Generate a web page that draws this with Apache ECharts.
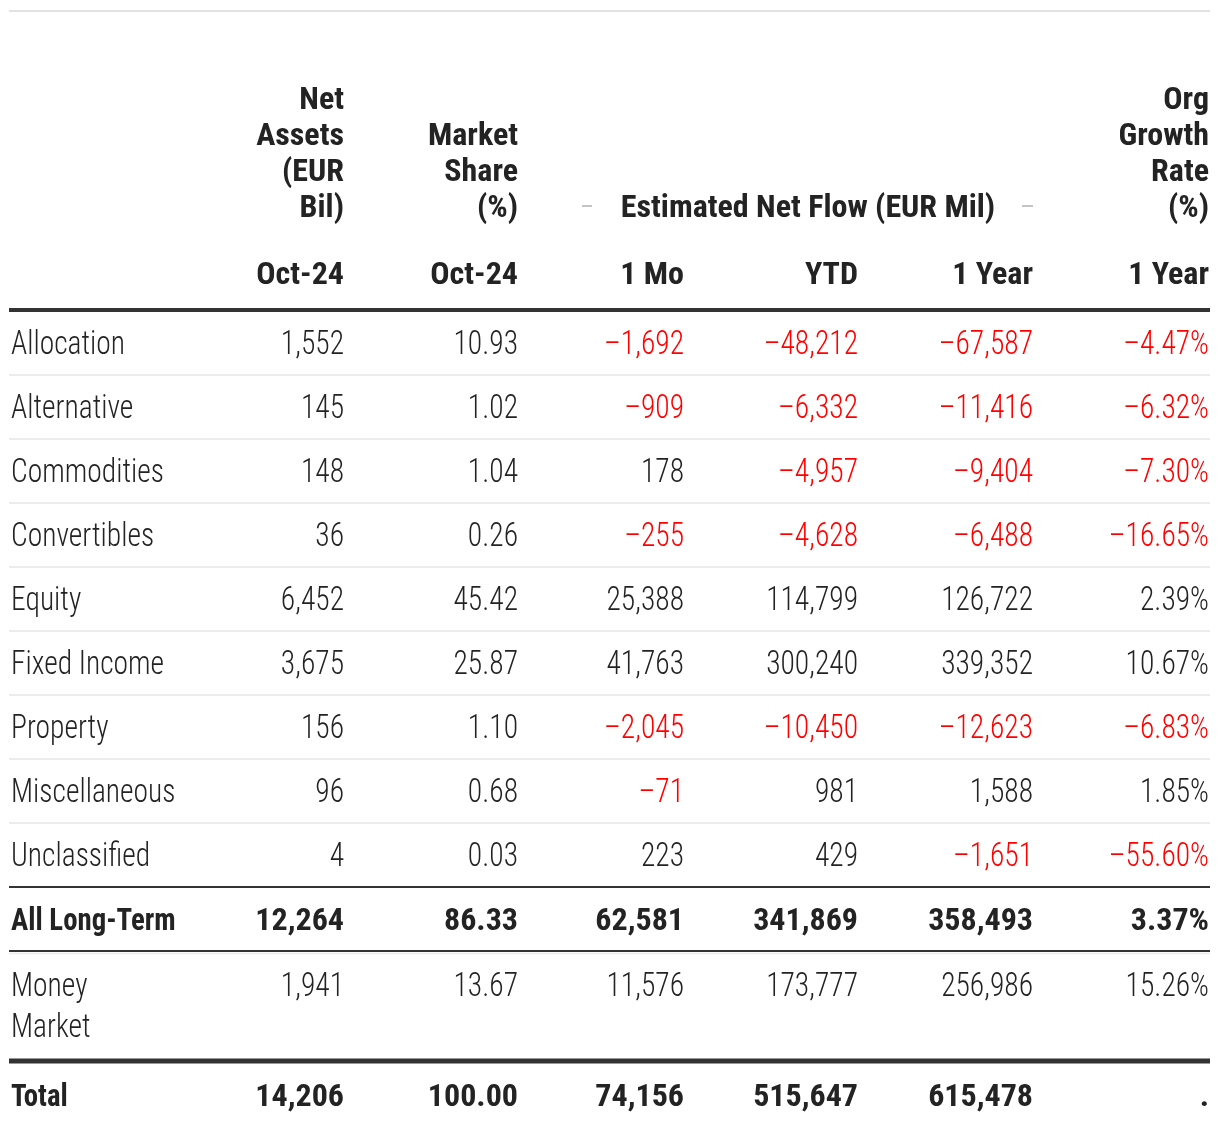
<!DOCTYPE html>
<html><head><meta charset="utf-8">
<script src="https://cdn.jsdelivr.net/npm/echarts@6/dist/echarts.min.js"></script>
<style>html,body{margin:0;padding:0;background:#fff}#c{width:1220px;height:1136px}</style>
</head><body><div id="c"></div>
<script>
// ---- data ----
const categories = ['Allocation','Alternative','Commodities','Convertibles','Equity','Fixed Income','Property','Miscellaneous','Unclassified'];
const netAssets   = [1552, 145, 148, 36, 6452, 3675, 156, 96, 4];
const marketShare = [10.93, 1.02, 1.04, 0.26, 45.42, 25.87, 1.10, 0.68, 0.03];
const flow1Mo     = [-1692, -909, 178, -255, 25388, 41763, -2045, -71, 223];
const flowYTD     = [-48212, -6332, -4957, -4628, 114799, 300240, -10450, 981, 429];
const flow1Yr     = [-67587, -11416, -9404, -6488, 126722, 339352, -12623, 1588, -1651];
const orgGrowth   = [-4.47, -6.32, -7.30, -16.65, 2.39, 10.67, -6.83, 1.85, -55.60];

const summaryLabels = ['All Long-Term', 'Money\nMarket', 'Total'];
const longTerm    = [12264, 86.33, 62581, 341869, 358493, 3.37];
const moneyMarket = [1941, 13.67, 11576, 173777, 256986, 15.26];
const totalRow    = [14206, 100.00, 74156, 515647, 615478, null];

const topHeaders  = ['Net\nAssets\n(EUR\nBil)', 'Market\nShare\n(%)', '', '', '', 'Org\nGrowth\nRate\n(%)'];
const groupHeader = 'Estimated Net Flow (EUR Mil)';
const subHeaders  = ['Oct-24', 'Oct-24', '1 Mo', 'YTD', '1 Year', '1 Year'];

// ---- layout / style ----
const FONT = "'Roboto Condensed','Liberation Sans Narrow','Arial Narrow','DejaVu Sans Condensed',sans-serif";
const COL_X = [344, 518, 684, 858, 1033, 1209];
const LABEL_X = 11, LEFT = 9, RIGHT = 1210;
const BODY_Y0 = 343, ROW_H = 64, TEXT_DY = 3;
const DARK = '#232323', RED = '#ff0000', LIGHT = '#e6e6e6', RULE = '#333333';
const BODY_SIZE = 33, BODY_SX = 0.895, BODY_W = '300';
const HEAD_SIZE = 32, HEAD_SX = 1.0;

function fmtInt(v){ const s = Math.abs(v).toLocaleString('en-US'); return (v < 0 ? '\u2013' : '') + s; }
function fmtDec(v){ return (v < 0 ? '\u2013' : '') + Math.abs(v).toFixed(2); }
function fmtPct(v){ return v == null ? '.' : fmtDec(v) + '%'; }
const formatters = [fmtInt, fmtDec, fmtInt, fmtInt, fmtInt, fmtPct];

const cells = [];
function addCell(x, y, text, o){
  cells.push(Object.assign({x, y, text, align:'right', va:'middle', weight:BODY_W, color:DARK, lh:BODY_SIZE+6, size:BODY_SIZE, sx:BODY_SX}, o||{}));
}
const HEAD = {weight:'bold', size:HEAD_SIZE, sx:HEAD_SX};

// headers
topHeaders.forEach((t, i) => { if (t) addCell(COL_X[i], 224, t, Object.assign({va:'bottom', lh:36}, HEAD)); });
addCell(808, 206, groupHeader, Object.assign({align:'center'}, HEAD));
subHeaders.forEach((t, i) => addCell(COL_X[i], 273, t, HEAD));

// body
const cols = [netAssets, marketShare, flow1Mo, flowYTD, flow1Yr, orgGrowth];
categories.forEach((c, r) => {
  const y = BODY_Y0 + r * ROW_H;
  addCell(LABEL_X, y, c, {align:'left'});
  cols.forEach((arr, ci) => {
    const v = arr[r];
    addCell(COL_X[ci], y, formatters[ci](v), {color: (ci >= 2 && v < 0) ? RED : DARK});
  });
});

// summary rows
const summaryRows = [longTerm, moneyMarket, totalRow];
const summaryY = [919, 985, 1095];
const summaryBold = [true, false, true];
summaryRows.forEach((row, si) => {
  const y = summaryY[si];
  const st = summaryBold[si] ? HEAD : {};
  if (si === 1) addCell(LABEL_X, y - 20.5, summaryLabels[si], {align:'left', va:'top', lh:41});
  else addCell(LABEL_X, y, summaryLabels[si], Object.assign({align:'left'}, st, {sx:0.9}));
  row.forEach((v, ci) => addCell(COL_X[ci], y, formatters[ci](v), Object.assign({color:(ci >= 2 && v < 0) ? RED : DARK}, st)));
});

// rules
const rules = [];
rules.push({x1:LEFT, x2:RIGHT, y:11, w:2, c:'#e2e2e2'});
rules.push({x1:LEFT, x2:RIGHT, y:310, w:4, c:RULE});
for (let i = 0; i < categories.length - 1; i++) rules.push({x1:LEFT, x2:RIGHT, y:BODY_Y0 + ROW_H/2 + i*ROW_H, w:1.5, c:LIGHT});
rules.push({x1:LEFT, x2:RIGHT, y:887, w:2, c:RULE});
rules.push({x1:LEFT, x2:RIGHT, y:951, w:2, c:RULE});
rules.push({x1:LEFT, x2:RIGHT, y:953.5, w:1.5, c:'#ececec'});
rules.push({x1:LEFT, x2:RIGHT, y:1061, w:5, c:RULE});
rules.push({x1:582, x2:592, y:206, w:2, c:'#c4c4c4'});
rules.push({x1:1022, x2:1033, y:206, w:2, c:'#c4c4c4'});

const chart = echarts.init(document.getElementById('c'), null, {renderer:'canvas'});
chart.setOption({
  animation: false,
  backgroundColor: '#ffffff',
  grid: {left:0, right:0, top:0, bottom:0},
  xAxis: {type:'value', min:0, max:1220, show:false},
  yAxis: {type:'value', min:0, max:1136, inverse:true, show:false},
  series: [
    {
      type:'custom', silent:true,
      data: rules.map(r => [r.x1, r.y, r.x2]),
      renderItem: function(params, api){
        const r = rules[params.dataIndex];
        const a = api.coord([api.value(0), api.value(1)]);
        const b = api.coord([api.value(2), api.value(1)]);
        return {type:'line', shape:{x1:a[0], y1:a[1], x2:b[0], y2:b[1]}, style:{stroke:r.c, lineWidth:r.w}};
      }
    },
    {
      type:'custom', silent:true,
      data: cells.map(c => [c.x, c.y]),
      renderItem: function(params, api){
        const d = cells[params.dataIndex];
        const p = api.coord([api.value(0), api.value(1) + TEXT_DY]);
        return {type:'text', x:p[0], y:p[1], scaleX:d.sx, style:{
          text:d.text, fill:d.color,
          font: d.weight + ' ' + d.size + 'px ' + FONT,
          align:d.align, verticalAlign:d.va, textAlign:d.align, textVerticalAlign:d.va,
          lineHeight:d.lh
        }};
      }
    }
  ]
});
</script>
</body></html>
